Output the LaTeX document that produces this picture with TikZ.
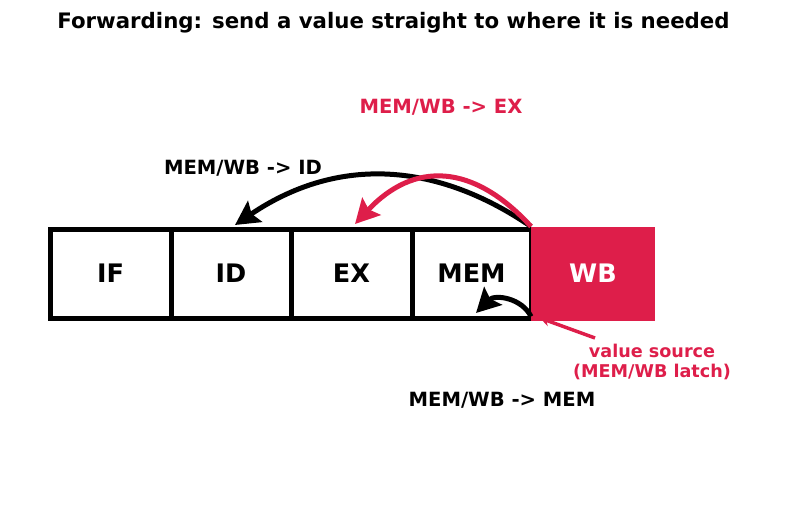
\documentclass[tikz,border=0pt]{standalone}
\usepackage{fontspec}
\setmainfont{DejaVu Sans}
\usetikzlibrary{arrows.meta,calc}
\definecolor{crim}{RGB}{222,30,74}
\tikzset{
  stage/.style={draw=black,line width=5pt,rectangle,inner sep=0pt,outer sep=0pt,minimum height=89pt,font=\fontsize{25.5}{30}\selectfont\bfseries},
  lbl/.style={font=\fontsize{19.6}{23}\selectfont\bfseries,inner sep=0pt},
  fwd/.style={line width=5pt,-{Stealth[length=24pt,width=25pt,inset=4pt]}},
}
\begin{document}
\begin{tikzpicture}[x=1pt,y=-1pt]
\useasboundingbox (0,0) rectangle (787,508);
\node[lbl,font=\fontsize{21.3}{25}\selectfont\bfseries] (title) at (393.5,23) {Forwarding: send a value straight to where it is needed};
\node[stage,minimum width=121pt] (IF) at (110.5,273.5) {IF};
\node[stage,minimum width=120pt] (ID) at (231,273.5) {ID};
\node[stage,minimum width=121pt] (EX) at (351.5,273.5) {EX};
\node[stage,minimum width=119pt] (MEM) at (471.5,273.5) {MEM};
\node[stage,draw=none,fill=crim,text=white,minimum width=124pt,minimum height=94pt] (WB) at (593,273.5) {WB};
\coordinate (idin) at (235,225);
\coordinate (exin) at (355,224);
\coordinate (memin) at (476,313);
\coordinate (srcA) at (595,338);
\coordinate (srcB) at (540,318);
\draw[fwd] (WB.north west) .. controls (432,159) and (334,158) .. (idin);
\draw[fwd,crim] (WB.north west) .. controls (473,163) and (414,161) .. (exin);
\draw[fwd] ($(WB.south west)+(0,-4)$) .. controls (522,298) and (495,294) .. (memin);
\draw[crim,line width=3.5pt,-{Stealth[length=10pt,width=10pt]}] (srcA) -- (srcB);
\node[lbl] (lid) at (243,168) {MEM/WB -> ID};
\node[lbl,text=crim] (lex) at (441,107) {MEM/WB -> EX};
\node[lbl] (lmem) at (502,400) {MEM/WB -> MEM};
\node[lbl,text=crim,align=center,font=\fontsize{17.6}{20}\selectfont\bfseries] (vs) at (652,362) {value source\\(MEM/WB latch)};
\end{tikzpicture}
\end{document}
